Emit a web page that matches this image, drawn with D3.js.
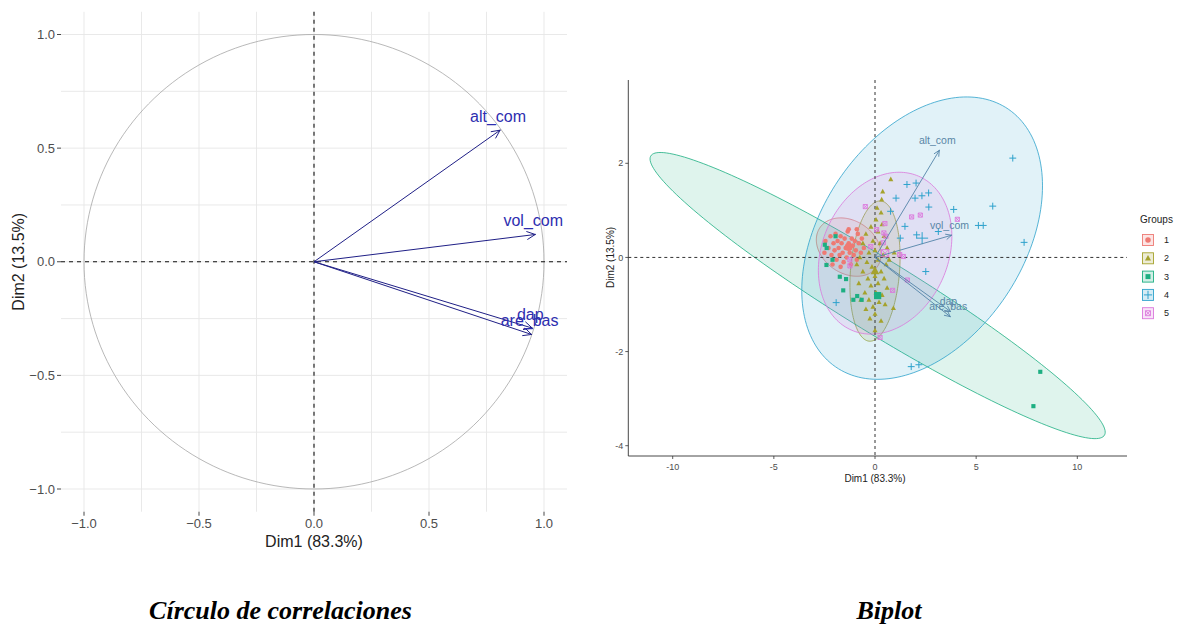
<!DOCTYPE html>
<html>
<head>
<meta charset="utf-8">
<script src="https://cdn.jsdelivr.net/npm/d3@7/dist/d3.min.js"></script>
<style>
  body { margin: 0; background: #ffffff; }
  svg { display: block; }
</style>
</head>
<body>
<svg id="fig" width="1182" height="626"></svg>
<script>
// ---------- Correlation circle data ----------
const variables = ["alt_com", "vol_com", "dap", "are_bas"];
const varDim1 = [0.809, 0.962, 0.949, 0.946];
const varDim2 = [0.579, 0.120, -0.292, -0.320];
const circleTicks = [-1.0, -0.5, 0.0, 0.5, 1.0];

// ---------- Biplot data ----------
const biplotXTicks = [-10, -5, 0, 5, 10];
const biplotYTicks = [-4, -2, 0, 2];
const groupNames = ["1", "2", "3", "4", "5"];
const groupColors = ["#EE7A73", "#A5A22C", "#1DAF82", "#2EA2CC", "#DB78DC"];

// ellipse centre, spread along Dim1 / Dim2 and correlation, per group
const ellCenterX = [-1.30, 0.00, 0.13, 2.33, 0.50];
const ellCenterY = [0.22, -0.29, -0.81, 0.41, 0.09];
const ellSdX = [1.60, 1.24, 11.25, 5.95, 3.30];
const ellSdY = [0.62, 1.49, 3.04, 3.00, 1.72];
const ellCorr = [-0.25, 0.20, -0.955, 0.37, 0.21];

// individuals, one pair of arrays per group
const g1Dim1 = [-2.45,-2.30,-2.20,-2.15,-2.05,-2.00,-1.95,-1.90,-1.85,-1.80,-1.75,-1.70,-1.65,-1.60,-1.55,-1.50,-1.45,-1.40,-1.35,-1.30,-1.25,-1.20,-1.15,-1.10,-1.05,-1.00,-0.95,-0.90,-0.85,-0.80,-0.70,-0.65,-0.55,-2.50,-2.10,-1.70,-1.30,-0.90];
const g1Dim2 = [0.35,0.20,0.45,0.05,0.30,0.15,0.50,-0.05,0.35,0.20,0.05,0.45,0.30,0.10,-0.10,0.40,0.20,0.00,0.55,0.30,0.10,-0.15,0.40,0.25,0.05,0.35,0.15,-0.05,0.50,0.30,0.10,0.40,0.20,0.10,-0.15,-0.20,0.60,0.60];

const g2Dim1 = [0.78,0.38,0.33,0.10,0.30,0.05,0.35,-0.20,0.15,-0.45,0.45,-0.10,0.25,-0.60,0.60,0.00,-0.30,0.40,-0.75,0.15,-0.40,0.55,-0.15,0.30,-0.60,0.00,-0.35,0.45,0.15,-0.80,-0.20,0.60,0.05,-0.50,0.35,-0.30,-0.70,0.20,-0.10,0.50,-0.45,0.00,0.91,-0.25,0.30,0.00,0.95,0.70,-0.90];
const g2Dim2 = [1.66,1.40,1.23,1.05,0.95,0.80,0.70,0.65,0.55,0.50,0.45,0.35,0.30,0.30,0.20,0.15,0.10,0.05,0.00,-0.05,-0.10,-0.15,-0.20,-0.30,-0.30,-0.40,-0.45,-0.45,-0.55,-0.55,-0.60,-0.65,-0.75,-0.75,-0.80,-0.90,-0.90,-0.95,-1.05,-1.00,-1.10,-1.20,-1.08,-1.30,-1.35,-1.55,0.10,-0.05,-0.15];

const g3Dim1 = [-2.48,-2.39,-2.40,-1.74,-1.43,-1.57,-0.88,-0.66,-1.07,-2.10,-1.95,8.17,7.83];
const g3Dim2 = [0.27,0.20,-0.16,-0.41,-0.46,-0.70,-0.82,-0.90,-0.90,-0.05,0.45,-2.43,-3.16];

const g4Dim1 = [6.81,1.58,2.03,1.04,1.98,2.32,2.65,2.66,3.89,5.82,0.77,1.48,2.06,3.13,5.11,5.35,7.37,1.25,2.51,1.79,2.17,-1.92];
const g4Dim2 = [2.11,1.55,1.58,1.26,1.26,1.31,1.37,1.07,1.02,1.09,0.98,0.66,0.48,0.55,0.68,0.68,0.32,0.41,-0.30,-2.32,-2.28,-0.96];

const g5Dim1 = [-0.48,1.81,2.24,4.07,0.49,0.44,0.41,0.08,1.22,1.40,1.60,0.87,0.25,-1.24,-1.24,-0.21,0.54];
const g5Dim2 = [1.08,0.86,0.90,0.81,0.72,0.52,0.31,0.59,0.06,0.02,-0.48,-0.70,-1.70,-0.05,-0.18,0.23,0.45];

const biplotArrowScale = 3.93;

// ---------- helpers ----------
const svg = d3.select("#fig");
const sans = "'Liberation Sans', Arial, Helvetica, sans-serif";

function arrowHead(g, x0, y0, x1, y1, len, color, width) {
  const ang = Math.atan2(y1 - y0, x1 - x0);
  const spread = Math.PI / 7;
  [ang + Math.PI - spread, ang + Math.PI + spread].forEach(a => {
    g.append("line")
      .attr("x1", x1).attr("y1", y1)
      .attr("x2", x1 + len * Math.cos(a)).attr("y2", y1 + len * Math.sin(a))
      .attr("stroke", color).attr("stroke-width", width)
      .attr("stroke-linecap", "round");
  });
}

// =============== Left panel: correlation circle ===============
const xL = d3.scaleLinear().domain([-1, 1]).range([84, 544]);
const yL = d3.scaleLinear().domain([-1, 1]).range([489, 34.5]);
const L = svg.append("g");
const lx0 = xL(-1.1), lx1 = xL(1.1), ly0 = yL(1.1), ly1 = yL(-1.1);

// grid (major and minor)
const gridVals = d3.range(-1, 1.001, 0.25);
L.append("g").selectAll("line.v").data(gridVals).join("line")
  .attr("x1", d => xL(d)).attr("x2", d => xL(d))
  .attr("y1", ly0).attr("y2", ly1)
  .attr("stroke", "#e6e6e6").attr("stroke-width", 0.9);
L.append("g").selectAll("line.h").data(gridVals).join("line")
  .attr("y1", d => yL(d)).attr("y2", d => yL(d))
  .attr("x1", lx0).attr("x2", lx1)
  .attr("stroke", "#e6e6e6").attr("stroke-width", 0.9);

// unit circle
const angles = d3.range(0, 361, 2).map(a => a * Math.PI / 180);
L.append("path")
  .datum(angles)
  .attr("d", d3.line().x(a => xL(Math.cos(a))).y(a => yL(Math.sin(a))))
  .attr("fill", "none").attr("stroke", "#a6a6a6").attr("stroke-width", 0.8);

// reference lines
L.append("line").attr("x1", lx0).attr("x2", lx1).attr("y1", yL(0)).attr("y2", yL(0))
  .attr("stroke", "#111").attr("stroke-width", 1.1).attr("stroke-dasharray", "4,4");
L.append("line").attr("y1", ly0).attr("y2", ly1).attr("x1", xL(0)).attr("x2", xL(0))
  .attr("stroke", "#111").attr("stroke-width", 1.1).attr("stroke-dasharray", "4,4");

// axes ticks + labels
circleTicks.forEach(t => {
  L.append("line").attr("x1", lx0 - 4).attr("x2", lx0).attr("y1", yL(t)).attr("y2", yL(t))
    .attr("stroke", "#333").attr("stroke-width", 0.9);
  L.append("text").attr("x", lx0 - 6).attr("y", yL(t)).attr("dy", "0.35em")
    .attr("text-anchor", "end").attr("font-family", sans).attr("font-size", 13)
    .attr("fill", "#4d4d4d").text(d3.format(".1f")(t));
  L.append("line").attr("y1", ly1).attr("y2", ly1 + 4).attr("x1", xL(t)).attr("x2", xL(t))
    .attr("stroke", "#333").attr("stroke-width", 0.9);
  L.append("text").attr("x", xL(t)).attr("y", ly1 + 12).attr("dy", "0.35em")
    .attr("text-anchor", "middle").attr("font-family", sans).attr("font-size", 13)
    .attr("fill", "#4d4d4d").text(d3.format(".1f")(t));
});
L.append("text").attr("x", xL(0)).attr("y", 541).attr("dy", "0.35em")
  .attr("text-anchor", "middle").attr("font-family", sans).attr("font-size", 16)
  .attr("fill", "#222").text("Dim1 (83.3%)");
L.append("text").attr("transform", `translate(18.5,${yL(0)}) rotate(-90)`).attr("dy", "0.35em")
  .attr("text-anchor", "middle").attr("font-family", sans).attr("font-size", 16)
  .attr("fill", "#222").text("Dim2 (13.5%)");

// variable arrows
variables.forEach((v, i) => {
  const x1 = xL(varDim1[i]), y1 = yL(varDim2[i]);
  L.append("line").attr("x1", xL(0)).attr("y1", yL(0)).attr("x2", x1).attr("y2", y1)
    .attr("stroke", "#1f1f86").attr("stroke-width", 1);
  arrowHead(L, xL(0), yL(0), x1, y1, 9, "#1f1f86", 1);
  L.append("text").attr("x", x1 - 2).attr("y", y1 - 14).attr("dy", "0.35em")
    .attr("text-anchor", "middle").attr("font-family", sans).attr("font-size", 16)
    .attr("fill", "#2e2eb0").text(v);
});

// =============== Right panel: biplot ===============
const xR = d3.scaleLinear().domain([-10, 10]).range([672.7, 1077.3]);
const yR = d3.scaleLinear().domain([-4, 2]).range([445.7, 163.3]);
const R = svg.append("g");
const rx0 = 628.3, rx1 = 1127, ry0 = 80, ry1 = 456;

// confidence ellipses
const tt = d3.range(0, 2 * Math.PI + 0.001, Math.PI / 90);
groupNames.forEach((g, i) => {
  const cx = ellCenterX[i], cy = ellCenterY[i], sx = ellSdX[i], sy = ellSdY[i], r = ellCorr[i];
  const pts = tt.map(t => [cx + sx * Math.cos(t), cy + sy * (r * Math.cos(t) + Math.sqrt(1 - r * r) * Math.sin(t))]);
  R.append("path").datum(pts)
    .attr("d", d3.line().x(p => xR(p[0])).y(p => yR(p[1])))
    .attr("fill", groupColors[i]).attr("fill-opacity", 0.14)
    .attr("stroke", groupColors[i]).attr("stroke-opacity", 0.8).attr("stroke-width", 1);
});

// reference lines
R.append("line").attr("x1", rx0).attr("x2", rx1).attr("y1", yR(0)).attr("y2", yR(0))
  .attr("stroke", "#333").attr("stroke-width", 1).attr("stroke-dasharray", "3,3");
R.append("line").attr("y1", ry0).attr("y2", ry1).attr("x1", xR(0)).attr("x2", xR(0))
  .attr("stroke", "#333").attr("stroke-width", 1).attr("stroke-dasharray", "3,3");

// point symbols
function drawSymbol(g, shapeIdx, x, y, color, size) {
  const s = size;
  if (shapeIdx === 0) {
    g.append("circle").attr("cx", x).attr("cy", y).attr("r", s * 0.5).attr("fill", color);
  } else if (shapeIdx === 1) {
    g.append("path").attr("d", `M${x},${y - s * 0.6}L${x + s * 0.55},${y + s * 0.4}L${x - s * 0.55},${y + s * 0.4}Z`).attr("fill", color);
  } else if (shapeIdx === 2) {
    g.append("rect").attr("x", x - s * 0.45).attr("y", y - s * 0.45).attr("width", s * 0.9).attr("height", s * 0.9).attr("fill", color);
  } else if (shapeIdx === 3) {
    g.append("path").attr("d", `M${x - s * 0.75},${y}H${x + s * 0.75}M${x},${y - s * 0.75}V${y + s * 0.75}`)
      .attr("stroke", color).attr("stroke-width", 1);
  } else {
    const h = s * 0.45;
    g.append("path").attr("d", `M${x - h},${y - h}H${x + h}V${y + h}H${x - h}Z M${x - h},${y - h}L${x + h},${y + h}M${x + h},${y - h}L${x - h},${y + h}`)
      .attr("fill", "none").attr("stroke", color).attr("stroke-width", 0.9);
  }
}

const groupDim1 = [g1Dim1, g2Dim1, g3Dim1, g4Dim1, g5Dim1];
const groupDim2 = [g1Dim2, g2Dim2, g3Dim2, g4Dim2, g5Dim2];
const P = R.append("g");
groupNames.forEach((g, i) => {
  groupDim1[i].forEach((d1, k) => {
    drawSymbol(P, i, xR(d1), yR(groupDim2[i][k]), groupColors[i], 4.6);
  });
});
// group means
groupNames.forEach((g, i) => {
  drawSymbol(P, i, xR(ellCenterX[i]), yR(ellCenterY[i]), groupColors[i], 8);
});

// variable arrows on biplot
variables.forEach((v, i) => {
  const x1 = xR(varDim1[i] * biplotArrowScale), y1 = yR(varDim2[i] * biplotArrowScale);
  R.append("line").attr("x1", xR(0)).attr("y1", yR(0)).attr("x2", x1).attr("y2", y1)
    .attr("stroke", "#5283a8").attr("stroke-width", 0.9);
  arrowHead(R, xR(0), yR(0), x1, y1, 6, "#5283a8", 0.9);
  R.append("text").attr("x", x1 - 2).attr("y", y1 - 10).attr("dy", "0.35em")
    .attr("text-anchor", "middle").attr("font-family", sans).attr("font-size", 10.5)
    .attr("fill", "#5a86a6").text(v);
});

// axes
R.append("line").attr("x1", rx0).attr("x2", rx0).attr("y1", ry0).attr("y2", ry1).attr("stroke", "#333").attr("stroke-width", 0.9);
R.append("line").attr("x1", rx0).attr("x2", rx1).attr("y1", ry1).attr("y2", ry1).attr("stroke", "#333").attr("stroke-width", 0.9);
biplotYTicks.forEach(t => {
  R.append("line").attr("x1", rx0 - 3).attr("x2", rx0).attr("y1", yR(t)).attr("y2", yR(t)).attr("stroke", "#333").attr("stroke-width", 0.8);
  R.append("text").attr("x", rx0 - 5).attr("y", yR(t)).attr("dy", "0.35em").attr("text-anchor", "end")
    .attr("font-family", sans).attr("font-size", 9).attr("fill", "#4d4d4d").text(t);
});
biplotXTicks.forEach(t => {
  R.append("line").attr("x1", xR(t)).attr("x2", xR(t)).attr("y1", ry1).attr("y2", ry1 + 3).attr("stroke", "#333").attr("stroke-width", 0.8);
  R.append("text").attr("x", xR(t)).attr("y", ry1 + 11).attr("dy", "0.35em").attr("text-anchor", "middle")
    .attr("font-family", sans).attr("font-size", 9).attr("fill", "#4d4d4d").text(t);
});
R.append("text").attr("x", xR(0)).attr("y", 478).attr("dy", "0.35em").attr("text-anchor", "middle")
  .attr("font-family", sans).attr("font-size", 10).attr("fill", "#222").text("Dim1 (83.3%)");
R.append("text").attr("transform", `translate(610,${yR(0)}) rotate(-90)`).attr("dy", "0.35em").attr("text-anchor", "middle")
  .attr("font-family", sans).attr("font-size", 10).attr("fill", "#222").text("Dim2 (13.5%)");

// legend
const lg = R.append("g");
lg.append("text").attr("x", 1156.5).attr("y", 219).attr("dy", "0.35em").attr("text-anchor", "middle")
  .attr("font-family", sans).attr("font-size", 10).attr("fill", "#222").text("Groups");
groupNames.forEach((g, i) => {
  const cy = 240 + i * 18.3;
  lg.append("rect").attr("x", 1142.5).attr("y", cy - 5.5).attr("width", 11).attr("height", 11)
    .attr("fill", groupColors[i]).attr("fill-opacity", 0.2)
    .attr("stroke", groupColors[i]).attr("stroke-width", 0.9);
  drawSymbol(lg, i, 1148, cy, groupColors[i], 5.5);
  lg.append("text").attr("x", 1164).attr("y", cy).attr("dy", "0.35em")
    .attr("font-family", sans).attr("font-size", 9).attr("fill", "#222").text(g);
});

// =============== Captions ===============
const serif = "'Liberation Serif', 'Times New Roman', Times, serif";
svg.append("text").attr("x", 280.5).attr("y", 619).attr("text-anchor", "middle")
  .attr("font-family", serif).attr("font-size", 26).attr("font-weight", "bold").attr("font-style", "italic")
  .attr("fill", "#000").text("Círculo de correlaciones");
svg.append("text").attr("x", 889).attr("y", 619).attr("text-anchor", "middle")
  .attr("font-family", serif).attr("font-size", 26).attr("font-weight", "bold").attr("font-style", "italic")
  .attr("fill", "#000").text("Biplot");
</script>
</body>
</html>
